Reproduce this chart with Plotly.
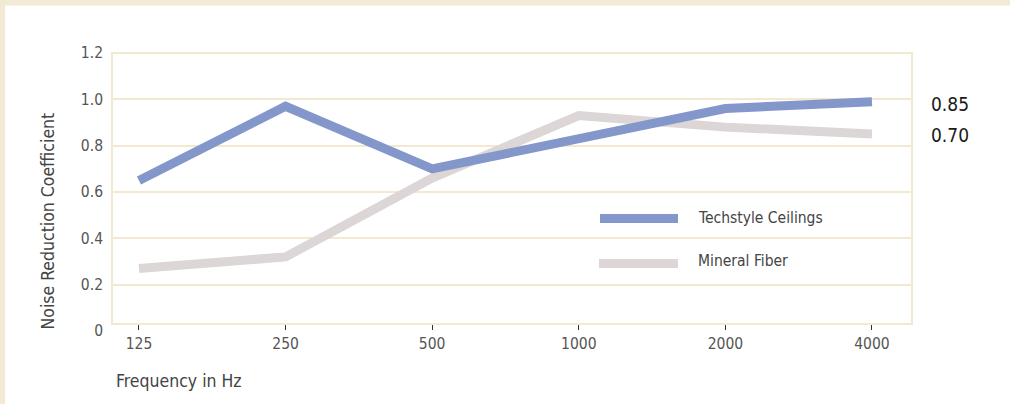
import plotly.graph_objects as go

# ---- data ----
frequencies = ["125", "250", "500", "1000", "2000", "4000"]
techstyle = [0.65, 0.97, 0.70, 0.83, 0.96, 0.99]
mineral_fiber = [0.27, 0.32, 0.66, 0.93, 0.88, 0.85]
series_names = ["Techstyle Ceilings", "Mineral Fiber"]
nrc_labels = ["0.85", "0.70"]
y_tick_vals = [0, 0.2, 0.4, 0.6, 0.8, 1.0, 1.2]
y_tick_text = ["0", "0.2", "0.4", "0.6", "0.8", "1.0", "1.2"]

# ---- styles ----
BLUE = "#8497CB"
GRAY = "#DCD6D6"
BEIGE = "#F3E8D0"
BAND = "#F3EAD6"
NARROW = "Liberation Sans Narrow, DejaVu Sans Condensed, Arial Narrow, sans-serif"

W, H = 1010, 404
L, R, T, B = 112, 98, 53, 73
PW, PH = W - L - R, H - T - B


def px(x):
    return (x - L) / PW


def py(y):
    return (H - B - y) / PH


fig = go.Figure()
fig.add_trace(go.Scatter(x=frequencies, y=mineral_fiber, mode="lines",
                         name=series_names[1], line=dict(color=GRAY, width=9),
                         showlegend=False))
fig.add_trace(go.Scatter(x=frequencies, y=techstyle, mode="lines",
                         name=series_names[0], line=dict(color=BLUE, width=9),
                         showlegend=False))

shapes = [
    # outer decorative bands
    dict(type="rect", xref="paper", yref="paper", x0=px(0), x1=px(W), y0=py(0), y1=py(5.5),
         line=dict(width=0), fillcolor=BAND, layer="below"),
    dict(type="rect", xref="paper", yref="paper", x0=px(0), x1=px(5), y0=py(0), y1=py(H),
         line=dict(width=0), fillcolor=BAND, layer="below"),
    # plot frame
    dict(type="rect", xref="paper", yref="paper", x0=0, x1=1, y0=py(324), y1=1,
         line=dict(color=BEIGE, width=2), layer="below"),
    # legend swatches
    dict(type="line", xref="paper", yref="paper", x0=px(600), x1=px(678), y0=py(218.5), y1=py(218.5),
         line=dict(color=BLUE, width=9)),
    dict(type="line", xref="paper", yref="paper", x0=px(599), x1=px(678), y0=py(263.5), y1=py(263.5),
         line=dict(color=GRAY, width=9)),
]

annotations = [
    dict(text="Noise Reduction Coefficient", xref="paper", yref="paper", x=px(47), y=py(221.5),
         textangle=-90, showarrow=False, font=dict(family=NARROW, size=17.5, color="#444"),
         xanchor="center", yanchor="middle"),
    dict(text="Frequency in Hz", xref="paper", yref="paper", x=px(114), y=py(381),
         showarrow=False, font=dict(family=NARROW, size=17.5, color="#444"),
         xanchor="left", yanchor="middle"),
    dict(text=series_names[0], xref="paper", yref="paper", x=px(696), y=py(218),
         showarrow=False, font=dict(family=NARROW, size=15.5, color="#444"),
         xanchor="left", yanchor="middle"),
    dict(text=series_names[1], xref="paper", yref="paper", x=px(696), y=py(261),
         showarrow=False, font=dict(family=NARROW, size=15.5, color="#444"),
         xanchor="left", yanchor="middle"),
    dict(text=nrc_labels[0], xref="paper", yref="paper", x=px(950), y=py(104),
         showarrow=False, font=dict(family=NARROW, size=19, color="#1a1a1a"),
         xanchor="center", yanchor="middle"),
    dict(text=nrc_labels[1], xref="paper", yref="paper", x=px(950), y=py(135),
         showarrow=False, font=dict(family=NARROW, size=19, color="#1a1a1a"),
         xanchor="center", yanchor="middle"),
]

fig.update_layout(
    width=W, height=H,
    margin=dict(l=L, r=R, t=T, b=B, pad=0),
    paper_bgcolor="white", plot_bgcolor="white",
    shapes=shapes, annotations=annotations,
    showlegend=False,
    xaxis=dict(type="category", range=[-0.184, 5.273], showgrid=False, zeroline=False,
               showline=False, anchor="free", position=py(324),
               ticks="outside", ticklen=5, tickwidth=1.2, tickcolor="#333",
               tickfont=dict(family=NARROW, size=15.5, color="#555")),
    yaxis=dict(range=[0, 1.2], tickvals=y_tick_vals, ticktext=y_tick_text,
               showgrid=True, gridcolor=BEIGE, gridwidth=2, zeroline=False, showline=False,
               ticks="", ticklabelstandoff=8,
               tickfont=dict(family=NARROW, size=15.5, color="#555")),
)

fig.write_html("out.html",
               config={"displayModeBar": False},
               post_script="document.body.style.margin='0';document.body.style.overflow='hidden';")
